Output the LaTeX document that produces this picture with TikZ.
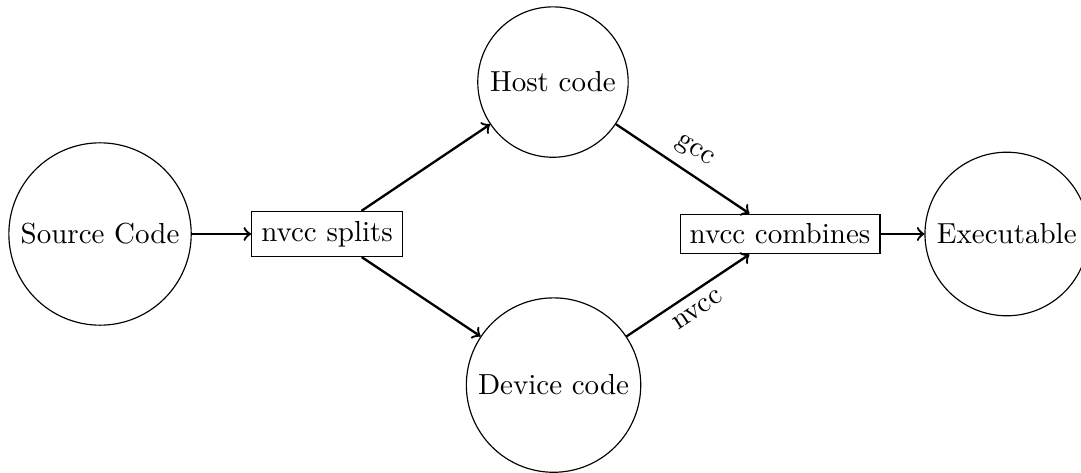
\documentclass[tikz,border=0pt]{standalone}
\begin{document}
\begin{tikzpicture}[x=1pt,y=1pt,
  stage/.style={draw,circle},
  tool/.style={draw,rectangle},
  flow/.style={->,thick}]
\useasboundingbox (0,0) rectangle (372.8,-163.1);
\node[stage] (src) at (34.5,-80.7) {Source Code};
\node[tool] (split) at (112.8,-80.7) {nvcc splits};
\node[stage] (host) at (190.7,-28.3) {Host code};
\node[stage] (dev) at (190.9,-132.8) {Device code};
\node[tool] (comb) at (269,-80.7) {nvcc combines};
\node[stage] (exe) at (347.2,-80.7) {Executable};
\draw[flow] (src) -- (split);
\draw[flow] (split) -- (host);
\draw[flow] (split) -- (dev);
\draw[flow] (host) -- node[sloped,above] {gcc} (comb);
\draw[flow] (dev) -- node[sloped,below] {nvcc} (comb);
\draw[flow] (comb) -- (exe);
\end{tikzpicture}
\end{document}
